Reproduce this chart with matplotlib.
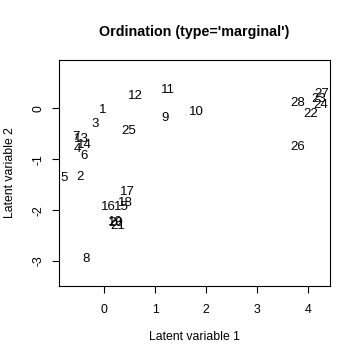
import matplotlib
matplotlib.use("Agg")
import matplotlib.pyplot as plt

labels = [str(i) for i in range(1, 29)]
lv1 = [-0.02, -0.48, -0.18, -0.52, -0.79, -0.40, -0.56, -0.36, 1.20, 1.80,
       1.25, 0.62, -0.44, -0.38, 0.34, 0.08, 0.45, 0.41, 0.21, 0.23,
       0.27, 4.05, 4.20, 4.24, 0.48, 3.79, 4.26, 3.80]
lv2 = [-0.03, -1.34, -0.31, -0.79, -1.36, -0.93, -0.56, -2.95, -0.18, -0.07,
       0.37, 0.24, -0.61, -0.72, -1.94, -1.94, -1.65, -1.85, -2.23, -2.25,
       -2.31, -0.11, 0.18, 0.07, -0.44, -0.75, 0.29, 0.11]
xticks = [0, 1, 2, 3, 4]
yticks = [0, -1, -2, -3]

plt.rcParams['font.family'] = ['Liberation Sans', 'DejaVu Sans']
W, H = 360, 360
fig = plt.figure(figsize=(3.6, 3.6), dpi=100)
L, R, T, B = 59.3, 329.5, 60, 286
ax = fig.add_axes([L / W, 1 - B / H, (R - L) / W, (B - T) / H])
ax.set_xlim(-0.88, 4.415)
ax.set_ylim(-3.49, 0.95)

for s, x, y in zip(labels, lv1, lv2):
    ax.text(x, y, s, ha='center', va='center', fontsize=9.5, color='black', clip_on=True)

ax.set_xticks(xticks)
ax.set_yticks(yticks)
ax.set_xticklabels([str(v) for v in xticks], fontsize=8.8)
ax.set_yticklabels([str(v) for v in yticks], fontsize=8.8, rotation=90, va='center')
ax.tick_params(direction='out', length=5, width=0.8)
ax.tick_params(axis='x', pad=8)
ax.tick_params(axis='y', pad=6)
for sp in ax.spines.values():
    sp.set_linewidth(0.8)

fig.text(194.4 / W, 1 - 32 / H, "Ordination (type='marginal')", ha='center', va='center',
         fontsize=10.3, fontweight='bold')
fig.text(194.4 / W, 1 - 337 / H, "Latent variable 1", ha='center', va='center', fontsize=8.8)
fig.text(10 / W, 1 - (T + B) / 2 / H, "Latent variable 2", ha='center', va='center',
         fontsize=8.8, rotation=90)

fig.savefig("out.png", dpi=100, facecolor='white')
